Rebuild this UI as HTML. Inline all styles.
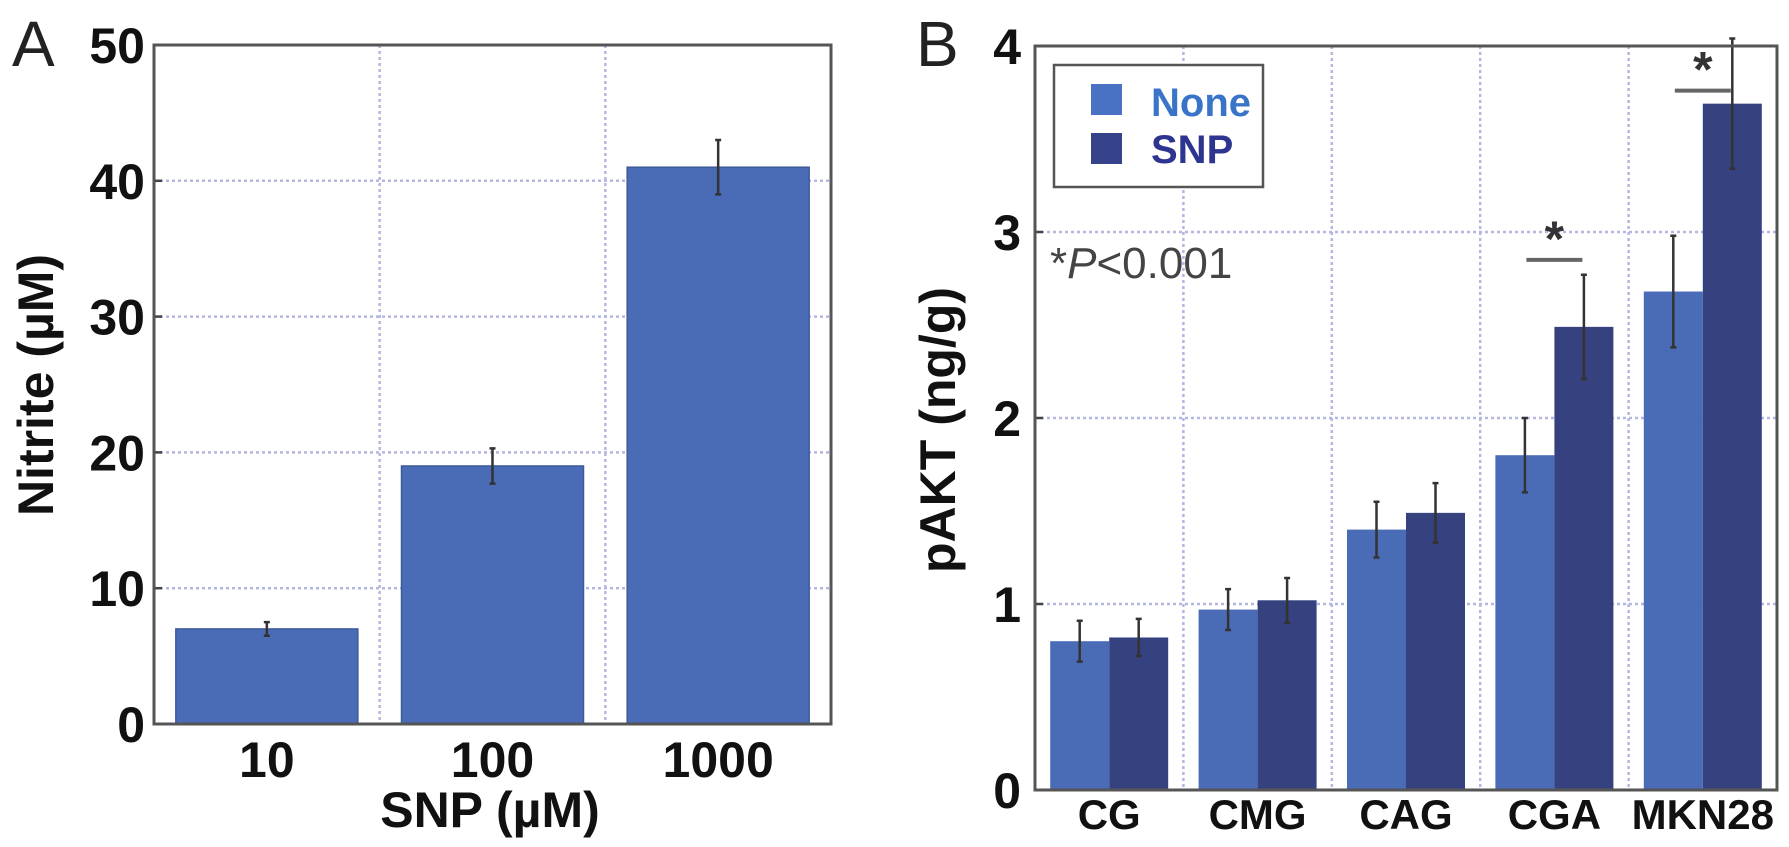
<!DOCTYPE html>
<html><head><meta charset="utf-8">
<style>
html,body{margin:0;padding:0;background:#fff;}
svg{display:block;font-family:"Liberation Sans",Arial,sans-serif;}
</style></head>
<body>
<svg id="chart" width="1789" height="847" viewBox="0 0 1789 847">
<g id="panelA"></g>
<g id="panelB"></g>
</svg>
<script>
// Panel A data
const aCategories = ["10", "100", "1000"];
const aValues = [7, 19, 41];
const aErrors = [0.5, 1.3, 2.0];
const aTicks = [0, 10, 20, 30, 40, 50];
// Panel B data
const bCategories = ["CG", "CMG", "CAG", "CGA", "MKN28"];
const bNone = [0.80, 0.97, 1.40, 1.80, 2.68];
const bSnp = [0.82, 1.02, 1.49, 2.49, 3.69];
const bNoneErr = [0.11, 0.11, 0.15, 0.20, 0.30];
const bSnpErr = [0.10, 0.12, 0.16, 0.28, 0.35];
const bTicks = [0, 1, 2, 3, 4];
const bSigCats = [3, 4];
const bSigLevels = [2.85, 3.76];

const NS = "http://www.w3.org/2000/svg";
function mk(parent, tag, attrs, text) {
  const e = document.createElementNS(NS, tag);
  for (const k in attrs) e.setAttribute(k, attrs[k]);
  if (text !== undefined) e.textContent = text;
  parent.appendChild(e);
  return e;
}
function errBar(g, x, yTop, yBot) {
  const e = mk(g, "path", {d: `M${x},${yTop}V${yBot}M${x-3},${yTop}H${x+3}M${x-3},${yBot}H${x+3}`, stroke: "#333", "stroke-width": 2.5, fill: "none"});
  
  
}

// ---------- Panel A ----------
(function () {
  const g = document.getElementById("panelA");
  const L = 154, R = 831, T = 45, B = 724, yMax = 50;
  const y = v => B - (v / yMax) * (B - T);
  const step = (R - L) / aCategories.length;
  const cx = i => L + step * (i + 0.5);
  const bw = 182;
  // grid
  aTicks.forEach(t => {
    if (t === 0 || t === yMax) return;
    const l = mk(g, "line", {x1: L, x2: R, y1: y(t), y2: y(t), stroke: "#b4b8e0", "stroke-width": 2.5, "stroke-dasharray": "3,3"});
    
    
  });
  for (let i = 1; i < aCategories.length; i++) {
    const l = mk(g, "line", {x1: L + step * i, x2: L + step * i, y1: T, y2: B, stroke: "#b4b8e0", "stroke-width": 2.5, "stroke-dasharray": "3,3"});
    
    
  }
  aValues.forEach((v, i) => {
    const r = mk(g, "rect", {x: cx(i) - bw / 2, y: y(v), width: bw, height: B - y(v), fill: "#4a6bb5", stroke: "#3d5a9c", "stroke-width": 1.5});
    
    
    errBar(g, cx(i), y(v + aErrors[i]), y(v - aErrors[i]));
    const t = mk(g, "text", {x: cx(i), y: 777, "text-anchor": "middle", "font-size": 50, "font-weight": "bold", fill: "#111"}, aCategories[i]);
    
    
  });
  aTicks.forEach(t => {
    const tk = mk(g, "line", {x1: L, x2: L + 8, y1: y(t), y2: y(t), stroke: "#444", "stroke-width": 2.5});
    
    
    const lb = mk(g, "text", {x: 145, y: y(t) + 18, "text-anchor": "end", "font-size": 50, "font-weight": "bold", fill: "#111"}, String(t));
    
    
  });
  const box = mk(g, "rect", {x: L, y: T, width: R - L, height: B - T, fill: "none", stroke: "#555", "stroke-width": 3});
  
  
  const xt = mk(g, "text", {x: 490, y: 827, "text-anchor": "middle", "font-size": 50, "font-weight": "bold", fill: "#111"}, "SNP (µM)");
  
  
  const yt = mk(g, "text", {x: 0, y: 0, transform: "translate(53,385) rotate(-90)", "text-anchor": "middle", "font-size": 50, "font-weight": "bold", fill: "#111"}, "Nitrite (µM)");
  
  
  const pl = mk(g, "text", {x: 12, y: 66, "font-size": 64, fill: "#222"}, "A");
  
  
})();

// ---------- Panel B ----------
(function () {
  const g = document.getElementById("panelB");
  const L = 1035, R = 1777, T = 46, B = 790, yMax = 4;
  const y = v => B - (v / yMax) * (B - T);
  const step = (R - L) / bCategories.length;
  const cx = i => L + step * (i + 0.5);
  const bw = 59;
  bTicks.forEach(t => {
    if (t === 0 || t === yMax) return;
    const l = mk(g, "line", {x1: L, x2: R, y1: y(t), y2: y(t), stroke: "#b4b8e0", "stroke-width": 2.5, "stroke-dasharray": "3,3"});
    
    
  });
  for (let i = 1; i < bCategories.length; i++) {
    const l = mk(g, "line", {x1: L + step * i, x2: L + step * i, y1: T, y2: B, stroke: "#b4b8e0", "stroke-width": 2.5, "stroke-dasharray": "3,3"});
    
    
  }
  bCategories.forEach((c, i) => {
    const r1 = mk(g, "rect", {x: cx(i) - bw, y: y(bNone[i]), width: bw, height: B - y(bNone[i]), fill: "#4a6cb6"});
    
    
    const r2 = mk(g, "rect", {x: cx(i), y: y(bSnp[i]), width: bw, height: B - y(bSnp[i]), fill: "#36427f"});
    
    
    errBar(g, cx(i) - bw / 2, y(bNone[i] + bNoneErr[i]), y(bNone[i] - bNoneErr[i]));
    errBar(g, cx(i) + bw / 2, y(bSnp[i] + bSnpErr[i]), y(bSnp[i] - bSnpErr[i]));
    const t = mk(g, "text", {x: cx(i), y: 829, "text-anchor": "middle", "font-size": 42, "font-weight": "bold", fill: "#111"}, c);
    
    
  });
  bSigCats.forEach((ci, k) => {
    const yy = y(bSigLevels[k]);
    const l = mk(g, "line", {x1: cx(ci) - 28, x2: cx(ci) + 28, y1: yy, y2: yy, stroke: "#666", "stroke-width": 4});
    
    
    const s = mk(g, "text", {x: cx(ci), y: yy - 4, "text-anchor": "middle", "font-size": 50, "font-weight": "bold", fill: "#333"}, "*");
    
    
  });
  bTicks.forEach(t => {
    const tk = mk(g, "line", {x1: L, x2: L + 8, y1: y(t), y2: y(t), stroke: "#444", "stroke-width": 2.5});
    
    
    const lb = mk(g, "text", {x: 1021, y: y(t) + 18, "text-anchor": "end", "font-size": 50, "font-weight": "bold", fill: "#111"}, String(t));
    
    
  });
  const box = mk(g, "rect", {x: L, y: T, width: R - L, height: B - T, fill: "none", stroke: "#555", "stroke-width": 3});
  
  
  // legend
  const lg = mk(g, "g", {});
  
  
  mk(lg, "rect", {x: 1054, y: 65, width: 209, height: 122, fill: "#fff", stroke: "#555", "stroke-width": 2.5});
  const s1 = mk(lg, "rect", {x: 1091, y: 84, width: 31, height: 31, fill: "#4a72c4"});
  
  
  const s2 = mk(lg, "rect", {x: 1091, y: 133, width: 31, height: 31, fill: "#36428a"});
  
  
  const t1 = mk(lg, "text", {x: 1151, y: 116, "font-size": 40, "font-weight": "bold", fill: "#3a74c8"}, "None");
  
  
  const t2 = mk(lg, "text", {x: 1151, y: 163, "font-size": 40, "font-weight": "bold", fill: "#2e3590"}, "SNP");
  
  
  const pt = mk(g, "text", {x: 1050, y: 278, "font-size": 44, fill: "#444"});
  
  
  pt.innerHTML = '*<tspan font-style="italic">P</tspan>&lt;0.001';
  const yt = mk(g, "text", {x: 0, y: 0, transform: "translate(955,430) rotate(-90)", "text-anchor": "middle", "font-size": 50, "font-weight": "bold", fill: "#111"}, "pAKT (ng/g)");
  
  
  const pl = mk(g, "text", {x: 916, y: 66, "font-size": 64, fill: "#222"}, "B");
  
  
})();
</script>
</body></html>
